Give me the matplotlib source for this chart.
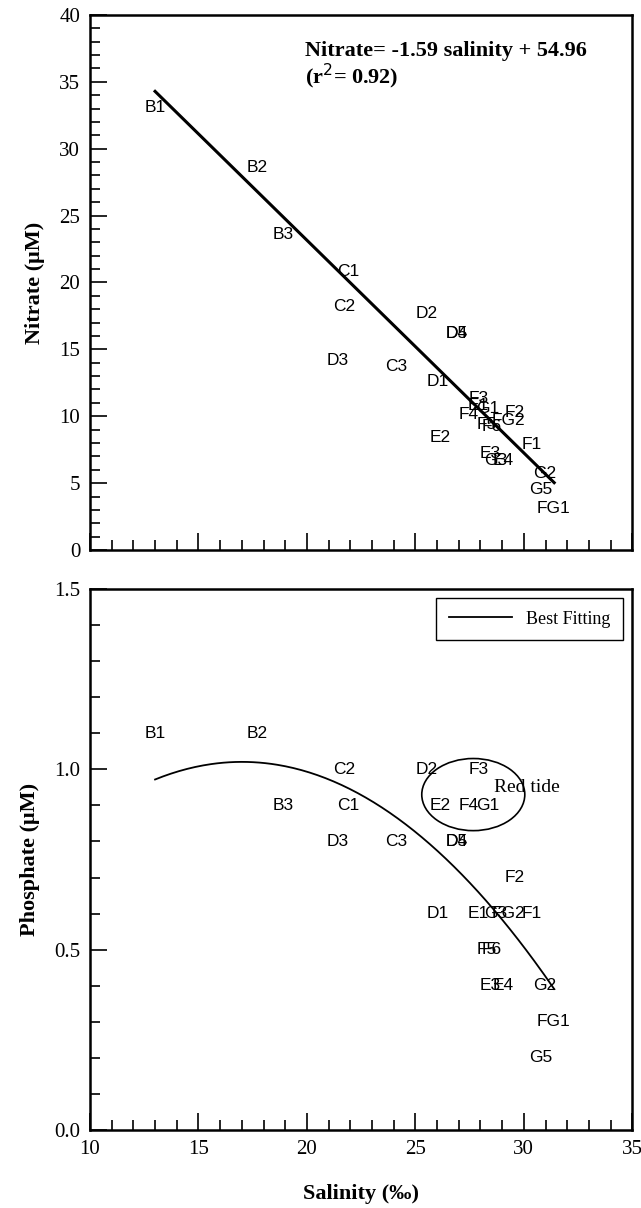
import numpy as np
import matplotlib.pyplot as plt
from matplotlib.patches import Ellipse
from matplotlib.ticker import MultipleLocator

# station labels and values
stations = ['B1', 'B2', 'B3', 'C1', 'C2', 'C3', 'D1', 'D2', 'D3', 'D4', 'D5',
            'E1', 'E2', 'E3', 'E4', 'F1', 'F2', 'F3', 'F4', 'F5', 'F6',
            'FG1', 'FG2', 'G1', 'G2', 'G3', 'G5']
salinity = [13.0, 17.7, 18.9, 21.9, 21.7, 24.1, 26.05, 25.5, 21.4, 26.9, 26.9,
            27.9, 26.15, 28.45, 29.05, 30.35, 29.6, 27.9, 27.45, 28.3, 28.5,
            31.35, 29.3, 28.35, 30.95, 28.7, 30.8]
nitrate = [33.1, 28.6, 23.6, 20.8, 18.2, 13.7, 12.6, 17.7, 14.2, 16.2, 16.2,
           10.8, 8.4, 7.2, 6.7, 7.9, 10.3, 11.3, 10.1, 9.4, 9.2,
           3.1, 9.7, 10.6, 5.7, 6.7, 4.5]
phosphate = [1.1, 1.1, 0.9, 0.9, 1.0, 0.8, 0.6, 1.0, 0.8, 0.8, 0.8,
             0.6, 0.9, 0.4, 0.4, 0.6, 0.7, 1.0, 0.9, 0.5, 0.5,
             0.3, 0.6, 0.9, 0.4, 0.6, 0.2]

# nitrate regression and phosphate best-fit curve
no3_slope, no3_icpt = -1.59, 54.96
fit_range = [13.0, 31.4]
po4_coef = [-0.00304, 0.1034, 0.1414]

serif = ['Liberation Serif', 'DejaVu Serif']
sans = ['Liberation Sans', 'DejaVu Sans']

fig = plt.figure(figsize=(6.41, 12.08), dpi=100)
ax1 = fig.add_axes([0.1404, 0.5447, 0.846, 0.4429])
ax2 = fig.add_axes([0.1404, 0.0646, 0.846, 0.4478])


def style(ax, ymax, ymaj, ymin):
    ax.set_xlim(10, 35)
    ax.set_ylim(0, ymax)
    ax.xaxis.set_major_locator(MultipleLocator(5))
    ax.xaxis.set_minor_locator(MultipleLocator(1))
    ax.yaxis.set_major_locator(MultipleLocator(ymaj))
    ax.yaxis.set_minor_locator(MultipleLocator(ymin))
    ax.tick_params(which='both', direction='in', top=False, right=False,
                   width=1.2, colors='black', pad=7)
    ax.tick_params(which='major', length=12)
    ax.tick_params(which='minor', length=7)
    for s in ax.spines.values():
        s.set_linewidth(1.8)


def fix_ticklabels(ax):
    for lab in ax.get_xticklabels() + ax.get_yticklabels():
        lab.set_family(serif)
        lab.set_fontsize(15)


# --- Nitrate panel ---
style(ax1, 40, 5, 1)
ax1.tick_params(labelbottom=False)
fix_ticklabels(ax1)
for name, s, n in zip(stations, salinity, nitrate):
    ax1.text(s, n, name, ha='center', va='center', fontsize=12.5, family=sans)
xs = np.array(fit_range)
ax1.plot(xs, no3_slope * xs + no3_icpt, color='black', lw=2.2)
ax1.text(19.9, 36.2, 'Nitrate= -1.59 salinity + 54.96\n(r$^2$= 0.92)',
         fontsize=16, fontweight='bold', family=serif, ha='left', va='center',
         linespacing=1.05)
ax1.set_ylabel('Nitrate (\u03bcM)', fontsize=16, fontweight='bold', family=serif,
               labelpad=10)

# --- Phosphate panel ---
style(ax2, 1.5, 0.5, 0.1)
ax2.yaxis.set_major_formatter(plt.FormatStrFormatter('%.1f'))
fix_ticklabels(ax2)
for name, s, p in zip(stations, salinity, phosphate):
    ax2.text(s, p, name, ha='center', va='center', fontsize=12.5, family=sans)
xc = np.linspace(fit_range[0], fit_range[1], 200)
ax2.plot(xc, np.polyval(po4_coef, xc), color='black', lw=1.3, label='Best Fitting')
ax2.add_patch(Ellipse((27.67, 0.93), 4.75, 0.2, fill=False, ec='black', lw=1.2))
ax2.text(30.15, 0.95, 'Red tide', fontsize=14, family=serif, ha='center', va='center')
leg = ax2.legend(loc='upper right', prop={'family': serif, 'size': 13},
                 fancybox=False, edgecolor='black', framealpha=1,
                 handlelength=3.5, borderpad=0.7, borderaxespad=0.5)
leg.get_frame().set_linewidth(1.0)
ax2.set_ylabel('Phosphate (\u03bcM)', fontsize=16, fontweight='bold', family=serif,
               labelpad=10)
ax2.set_xlabel('Salinity (\u2030)', fontsize=16, fontweight='bold', family=serif,
               labelpad=18)

fig.savefig('out.png', dpi=100)
